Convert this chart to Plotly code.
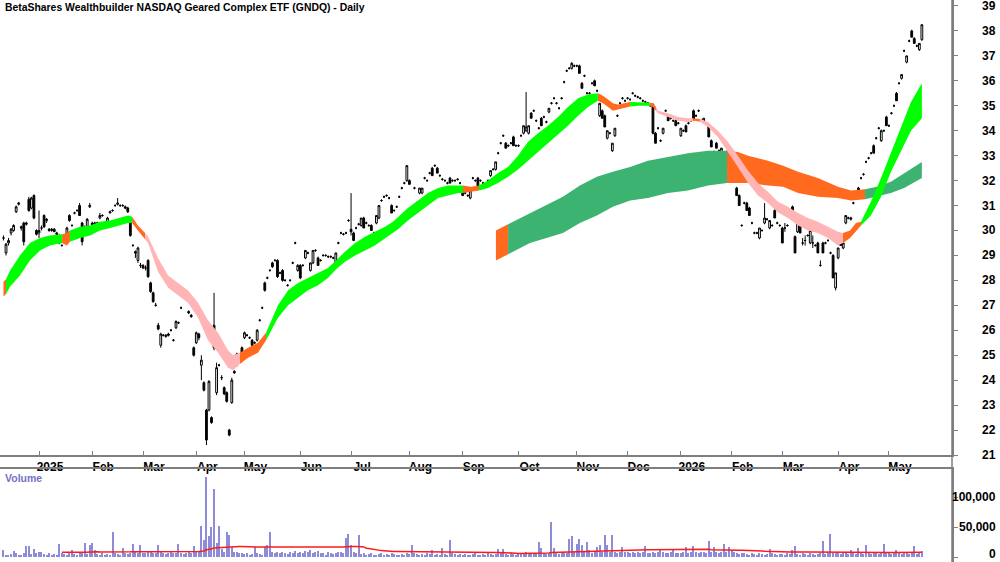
import numpy as np
import pandas as pd
import plotly.graph_objects as go

# ---------------- daily candles (open, high, low, close), one list per month ----------------
dec24 = [(29.7,29.8,29.6,29.7),(29.1,29.5,29.0,29.45),(29.5,29.7,29.4,29.6),(29.9,30.1,29.8,30.05),
         (30.0,30.25,29.95,30.2),(30.75,31.0,30.7,30.95),(31.05,31.15,31.0,31.1),(30.15,30.2,30.0,30.1),
         (30.3,30.35,29.4,29.55),(30.25,30.35,30.2,30.3),(31.25,31.35,30.75,30.8),(30.9,31.35,30.85,31.3),
         (31.4,31.45,30.45,30.5),(30.0,30.05,29.8,29.85)]
jan25 = [(29.9,30.8,29.7,30.0),(30.1,30.2,30.0,30.1),(30.6,30.65,30.1,30.15),(30.4,30.5,30.3,30.45),
         (30.05,30.1,29.95,30.0),(30.0,30.1,29.95,30.05),(30.05,30.1,29.95,29.95),(29.9,29.95,29.8,29.85),
         (29.8,29.85,29.45,29.5),(29.4,29.45,29.35,29.4),(29.55,29.6,29.5,29.55),(29.8,30.15,29.75,30.1),
         (30.6,30.65,30.35,30.4),(30.2,30.25,30.15,30.2),(30.7,30.75,30.65,30.7),(30.8,30.85,30.75,30.8),
         (31.0,31.1,30.6,30.6),(30.3,30.35,29.4,29.55),(30.1,30.2,30.0,30.1),(30.1,30.5,30.05,30.45),
         (30.95,31.1,30.9,31.0)]
feb25 = [(30.3,30.35,29.85,29.9),(30.25,30.35,30.2,30.3),(30.3,30.35,30.25,30.3),(30.5,30.7,30.45,30.6),
         (30.6,30.65,30.55,30.6),(30.2,30.35,30.1,30.3),(30.2,30.55,30.15,30.5),(30.7,30.8,30.7,30.75),
         (30.8,30.85,30.75,30.8),(31.0,31.05,30.95,31.0),(31.05,31.3,31.0,31.1),(31.0,31.05,30.95,31.0),
         (31.0,31.05,30.95,31.0),(30.95,31.0,30.85,30.9),(30.9,30.95,30.7,30.75),(30.5,30.55,29.75,29.8),
         (29.4,29.45,29.35,29.4),(29.15,29.2,28.9,29.1),(28.8,29.35,28.7,29.3),(28.6,28.7,28.5,28.6)]
mar25 = [(28.6,28.65,28.45,28.5),(28.5,28.6,28.4,28.5),(28.8,28.85,28.1,28.15),(27.9,27.95,27.5,27.55),
         (27.5,27.55,27.1,27.15),(27.0,27.1,26.95,27.0),(26.2,26.3,26.0,26.05),(25.4,25.9,25.3,25.85),
         (25.8,25.85,25.75,25.8),(25.75,25.85,25.7,25.8),(25.85,25.9,25.75,25.8),(26.0,26.05,25.95,26.0),
         (25.6,25.65,25.55,25.6),(26.1,26.4,26.05,26.35),(26.3,26.35,26.25,26.3),(26.9,26.95,26.85,26.9),
         (27.6,27.65,27.5,27.55),(27.4,27.45,27.2,27.3),(26.75,26.8,26.65,26.7),(26.6,26.65,26.5,26.55),
         (25.3,25.35,24.95,25.0)]
apr25 = [(25.5,25.95,25.45,25.9),(25.85,25.9,25.6,25.7),(24.6,25.0,24.0,24.8),(23.9,23.95,23.55,23.6),
         (22.8,22.85,21.4,21.6),(22.8,24.0,22.75,23.95),(22.5,22.55,22.25,22.3),(26.2,27.5,25.2,25.3),
         (23.5,24.7,23.4,24.5),(24.6,24.65,24.55,24.6),(24.1,24.2,24.0,24.1),(23.7,23.75,23.4,23.45),
         (23.5,23.55,23.1,23.15),(22.0,22.05,21.75,21.8),(23.1,24.1,23.05,24.0),(24.35,24.4,24.25,24.3),
         (24.6,25.1,24.55,25.05),(24.9,24.95,24.85,24.9),(25.3,25.35,24.9,24.95)]
may25 = [(25.7,25.95,25.65,25.9),(25.8,25.85,25.75,25.8),(25.7,25.75,25.65,25.7),(25.6,25.65,25.35,25.4),
         (25.5,25.55,25.45,25.5),(25.6,26.05,25.55,26.0),(26.4,26.45,26.35,26.4),(26.9,26.95,26.85,26.9),
         (27.9,27.95,27.55,27.6),(28.1,28.15,28.05,28.1),(28.4,28.45,28.35,28.4),(28.7,28.75,28.5,28.55),
         (28.8,28.85,28.75,28.8),(28.8,28.85,28.1,28.15),(28.3,28.35,28.25,28.3),(28.4,28.45,27.95,28.0),
         (28.0,28.05,27.95,28.0),(27.8,27.85,27.75,27.8),(28.0,28.05,27.95,28.0),(28.7,28.75,28.65,28.7),
         (29.5,29.55,29.45,29.5),(28.4,28.65,28.35,28.6)]
jun25 = [(28.6,28.65,28.05,28.1),(28.6,28.65,28.55,28.6),(28.9,29.2,28.85,29.2),(29.1,29.15,29.05,29.1),
         (28.4,28.7,28.35,28.7),(28.7,29.2,28.65,29.2),(29.2,29.25,29.15,29.2),(28.9,28.95,28.6,28.6),
         (28.8,28.85,28.75,28.8),(29.0,29.05,28.95,29.0),(29.0,29.05,28.95,29.0),(28.95,29.0,28.9,28.95),
         (28.95,29.0,28.9,28.95),(28.9,28.95,28.85,28.9),(28.6,29.1,28.55,29.1),(29.5,29.55,29.45,29.5),
         (29.9,29.95,29.85,29.9),(29.85,29.9,29.8,29.85),(29.9,29.95,29.85,29.9),(30.4,30.45,30.35,30.4)]
jul25 = [(30.05,31.5,29.8,29.95),(29.9,29.95,29.6,29.6),(30.1,30.15,30.05,30.1),(30.25,30.3,30.2,30.25),
         (30.2,30.5,30.15,30.5),(30.5,30.55,30.1,30.1),(30.3,30.35,30.25,30.3),(30.2,30.25,30.15,30.2),
         (30.2,30.25,30.0,30.0),(29.9,29.95,29.85,29.9),(30.3,30.6,30.25,30.6),(30.5,31.0,30.45,31.0),
         (31.2,31.25,31.15,31.2),(31.35,31.4,31.3,31.35),(31.4,31.45,31.35,31.4),(31.3,31.35,31.25,31.3),
         (31.0,31.05,30.7,30.7),(30.8,30.85,30.75,30.8),(30.95,31.0,30.9,30.95),(31.35,31.4,31.3,31.35),
         (31.7,31.75,31.65,31.7),(31.9,31.95,31.85,31.9),(32.0,32.6,31.95,32.6)]
aug25 = [(32.0,32.05,31.85,31.85),(30.8,30.85,30.75,30.8),(31.7,31.75,31.65,31.7),(31.1,31.15,31.05,31.1),
         (31.5,31.7,31.45,31.7),(31.5,31.7,31.45,31.7),(32.1,32.15,32.05,32.1),(32.0,32.05,31.95,32.0),
         (32.3,32.35,32.25,32.3),(32.5,32.55,32.2,32.2),(32.6,32.65,32.55,32.6),(32.5,32.55,32.3,32.3),
         (32.2,32.25,32.15,32.2),(32.05,32.1,32.0,32.05),(32.0,32.05,31.95,32.0),(31.9,31.95,31.85,31.9),
         (32.1,32.15,31.9,31.9),(32.0,32.05,31.95,32.0),(32.0,32.05,31.95,32.0),(32.05,32.1,32.0,32.05),
         (31.9,31.95,31.85,31.9)]
sep25 = [(31.7,31.75,31.4,31.4),(31.5,31.55,31.45,31.5),(31.4,31.45,31.35,31.4),(31.3,31.6,31.25,31.6),
         (32.1,32.15,32.05,32.1),(32.0,32.05,31.95,32.0),(32.1,32.15,31.7,31.7),(32.0,32.05,31.95,32.0),
         (31.9,31.95,31.85,31.9),(31.85,31.9,31.8,31.85),(32.0,32.05,31.95,32.0),(32.2,32.4,32.15,32.4),
         (32.45,32.5,32.4,32.45),(32.45,32.75,32.4,32.75),(33.1,33.15,33.05,33.1),(33.5,33.55,33.45,33.5),
         (33.8,33.85,33.75,33.8),(33.5,33.55,33.3,33.3),(33.4,33.45,33.35,33.4),(33.5,33.55,33.45,33.5),
         (33.75,33.8,33.4,33.4),(33.4,33.45,33.35,33.4)]
oct25 = [(33.4,33.45,33.35,33.4),(33.8,33.85,33.75,33.8),(33.9,34.2,33.85,34.2),(34.0,35.55,33.95,34.15),
         (33.9,34.2,33.85,34.2),(34.7,34.75,34.5,34.5),(34.8,34.85,34.75,34.8),(34.4,34.45,34.35,34.4),
         (34.1,34.15,34.05,34.1),(34.5,34.55,34.2,34.2),(34.55,34.6,34.5,34.55),(34.35,34.4,34.3,34.35),
         (34.75,34.9,34.7,34.9),(35.1,35.15,35.05,35.1),(35.3,35.35,35.25,35.3),(35.1,35.15,35.05,35.1),
         (34.9,34.95,34.85,34.9),(35.3,35.35,35.25,35.3),(35.95,36.0,35.9,35.95),(36.4,36.45,36.35,36.4),
         (36.5,36.55,36.45,36.5),(36.5,36.75,36.45,36.7),(36.6,36.65,36.55,36.6)]
nov25 = [(36.6,36.65,36.55,36.6),(36.6,36.65,36.3,36.3),(35.9,35.95,35.7,35.7),(36.2,36.25,36.15,36.2),
         (35.5,35.55,35.45,35.5),(35.5,35.55,35.45,35.5),(35.9,35.95,35.85,35.9),(36.0,36.05,35.8,35.8),
         (35.6,35.65,35.55,35.6),(34.6,35.1,34.55,35.1),(34.8,34.85,34.5,34.5),(34.6,34.65,34.15,34.15),
         (33.7,34.0,33.65,34.0),(33.9,33.95,33.85,33.9),(33.2,33.5,33.15,33.5),(33.8,34.1,33.75,34.1),
         (34.6,34.65,34.55,34.6),(35.1,35.15,35.05,35.1),(35.3,35.35,35.25,35.3),(35.2,35.25,35.15,35.2)]
dec25 = [(35.3,35.35,35.25,35.3),(35.25,35.3,35.2,35.25),(35.5,35.55,35.45,35.5),(35.4,35.45,35.35,35.4),
         (35.35,35.4,35.3,35.35),(35.3,35.35,35.25,35.3),(35.2,35.25,35.15,35.2),(35.15,35.2,35.1,35.15),
         (35.1,35.15,35.05,35.1),(35.0,35.05,34.95,35.0),(35.05,35.1,33.85,33.9),(33.9,33.95,33.5,33.5),
         (34.1,34.15,34.05,34.1),(33.6,33.65,33.55,33.6),(33.9,34.1,33.85,34.1),(34.8,34.85,34.75,34.8),
         (34.6,34.65,34.4,34.4),(34.5,34.55,34.45,34.5),(34.4,34.45,34.35,34.4),(34.4,34.45,34.2,34.2),
         (34.3,34.35,34.25,34.3)]
jan26 = [(33.8,34.1,33.75,34.1),(34.0,34.05,33.95,34.0),(34.2,34.25,33.95,33.95),(34.3,34.35,34.25,34.3),
         (34.4,34.45,34.35,34.4),(34.8,34.85,34.45,34.45),(34.6,34.65,34.55,34.6),(34.8,34.85,34.75,34.8),
         (34.4,34.45,34.35,34.4),(34.35,34.5,34.3,34.5),(34.3,34.35,34.25,34.3),(34.2,34.25,33.75,33.75),
         (33.6,33.65,33.35,33.35),(33.15,33.2,33.1,33.15),(33.5,33.55,33.3,33.3),(33.2,33.25,33.15,33.2),
         (33.0,33.3,32.95,33.3),(33.1,33.15,33.05,33.1),(33.15,33.2,32.5,32.5),(32.4,32.45,32.35,32.4)]
feb26 = [(32.0,32.05,31.95,32.0),(32.9,32.95,32.6,32.6),(31.7,31.75,31.4,31.4),(31.4,31.45,31.0,31.0),
         (30.2,30.25,30.15,30.2),(31.1,31.15,31.05,31.1),(31.1,31.15,30.8,30.8),(30.9,30.95,30.6,30.6),
         (30.3,30.35,30.25,30.3),(29.9,29.95,29.85,29.9),(29.9,29.95,29.85,29.9),(29.7,30.1,29.65,30.1),
         (30.0,30.05,29.95,30.0),(30.3,31.1,30.25,30.5),(30.45,30.5,30.4,30.45),(30.1,30.4,30.05,30.4),
         (30.2,30.25,30.15,30.2),(30.8,30.85,30.5,30.5),(30.3,30.35,30.25,30.3),(30.2,30.25,30.15,30.2)]
mar26 = [(30.1,30.15,29.5,29.5),(30.1,30.3,29.95,30.1),(30.2,30.25,30.15,30.2),(30.7,30.75,30.65,30.7),
         (30.95,31.0,30.7,30.7),(29.75,29.8,29.1,29.1),(29.95,30.3,29.9,30.3),(30.2,30.25,29.9,29.9),
         (29.5,29.7,29.4,29.5),(29.6,29.8,29.4,29.6),(29.8,29.85,29.75,29.8),(29.5,30.0,29.45,30.0),
         (29.5,29.8,29.3,29.5),(29.4,29.45,29.35,29.4),(29.5,29.55,29.1,29.1),(28.6,28.8,28.55,28.6),
         (29.5,29.55,29.1,29.1),(29.5,29.55,29.45,29.5),(29.6,29.65,29.55,29.6),(29.1,29.15,29.05,29.1),
         (29.0,29.05,28.1,28.1),(27.7,28.3,27.6,28.3)]
apr26 = [(28.9,29.3,28.85,29.3),(29.65,29.7,29.4,29.4),(29.3,29.5,29.25,29.5),(30.3,30.6,30.25,30.6),
         (30.5,30.55,30.45,30.5),(30.45,30.55,30.4,30.5),(31.1,31.15,31.05,31.1),(31.3,31.35,31.25,31.3),
         (31.7,31.75,31.4,31.4),(32.1,32.15,32.05,32.1),(32.25,32.3,32.2,32.25),(32.75,32.8,32.7,32.75),
         (32.9,32.95,32.85,32.9),(33.1,33.15,33.05,33.1),(33.4,33.45,33.1,33.1),(33.7,33.75,33.65,33.7),
         (34.1,34.15,34.05,34.1),(33.6,34.05,33.55,34.0),(34.0,34.05,33.95,34.0),(34.55,34.6,34.2,34.2)]
may26 = [(34.2,34.25,34.15,34.2),(34.7,34.75,34.65,34.7),(35.0,35.05,34.95,35.0),(35.5,35.55,35.2,35.2),
         (35.9,35.95,35.85,35.9),(36.1,36.25,36.05,36.25),(37.2,37.25,37.15,37.2),(36.75,37.0,36.7,37.0),
         (37.6,37.65,37.55,37.6),(38.0,38.05,37.75,37.75),(37.7,37.75,37.5,37.5),(37.4,37.45,37.35,37.4),
         (37.25,37.5,37.2,37.5),(37.65,38.25,37.6,38.25)]

# ---------------- daily volume, one list per month ----------------
vol_dec24 = [12000,4000,3000,5000,10000,6000,3000,4000,7000,19000,19000,5000,14000,6000]
vol_jan25 = [8000,9000,5000,4000,6000,3000,5000,4000,21000,7000,5000,4000,6000,12000,5000,3000,6000,9000,24000,5000,20000]
vol_feb25 = [24000,11000,5000,4000,6000,3000,5000,4000,42000,6000,5000,4000,15000,7000,5000,6000,22000,8000,6000,20000]
vol_mar25 = [7000,6000,9000,8000,7000,6000,20000,8000,7000,5000,6000,8000,7000,6000,22000,6000,5000,7000,8000,6000,18000]
vol_apr25 = [8000,10000,52000,29000,133000,35000,50000,114000,23000,51000,13000,9000,42000,37000,17000,9000,8000,7000,6000]
vol_may25 = [5000,6000,4000,5000,17000,6000,5000,4000,16000,20000,42000,8000,7000,9000,6000,8000,7000,5000,9000,6000,10000,7000]
vol_jun25 = [9000,7000,10000,8000,11000,6000,9000,10000,7000,6000,4000,8000,7000,5000,6000,8000,9000,7000,31000,38000]
vol_jul25 = [20000,9000,7000,37000,5000,6000,4000,5000,6000,4000,3000,5000,6000,4000,5000,4000,6000,5000,4000,3000,5000,4000,6000]
vol_aug25 = [5000,20000,6000,5000,4000,5000,4000,6000,5000,12000,4000,5000,4000,15000,5000,4000,28000,6000,5000,4000,5000]
vol_sep25 = [4000,5000,3000,4000,5000,6000,4000,3000,5000,4000,6000,5000,4000,5000,13000,6000,13000,5000,4000,6000,5000,4000]
vol_oct25 = [6000,5000,7000,9000,6000,5000,7000,6000,25000,15000,6000,5000,7000,58000,15000,6000,5000,7000,8000,6000,30000,35000,8000]
vol_nov25 = [22000,30000,20000,8000,25000,12000,7000,9000,17000,20000,8000,37000,20000,9000,37000,8000,7000,9000,17000,8000]
vol_dec25 = [8000,7000,9000,6000,8000,7000,9000,18000,7000,6000,8000,7000,9000,12000,8000,7000,6000,8000,14000,7000,6000]
vol_jan26 = [7000,8000,16000,7000,9000,18000,8000,7000,9000,8000,7000,26000,9000,16000,8000,7000,9000,21000,8000,17000]
vol_feb26 = [12000,8000,6000,5000,7000,6000,5000,4000,6000,5000,4000,6000,5000,4000,5000,14000,6000,5000,4000,5000]
vol_mar26 = [5000,4000,6000,5000,12000,19000,5000,4000,6000,5000,4000,6000,5000,4000,5000,6000,27000,5000,6000,39000,7000,6000]
vol_apr26 = [6000,5000,7000,6000,5000,12000,6000,5000,15000,6000,5000,20000,6000,5000,7000,6000,5000,6000,21000,6000]
vol_may26 = [6000,5000,7000,11000,6000,5000,7000,6000,5000,6000,19000,5000,6000,10000]

# ---------------- trend ribbons (trading-day index, upper, lower, state) ----------------
short_day = [0.0,1.0,2.6,6.5,10.4,14.4,18.3,23.1,25.0,26.2,30.2,34.1,38.0,42.0,45.9,49.1,50.7,53.0,55.8,57.0,
             60.9,64.9,68.8,72.7,76.7,80.6,84.6,88.5,90.5,93.2,96.4,100.3,103.5,108.2,112.2,116.1,120.0,124.0,
             127.9,131.1,134.6,138.6,142.5,146.4,150.4,153.5,155.5,159.4,163.4,167.3,171.3,175.2,179.2,181.1,
             184.3,187.4,191.0,194.9,198.9,202.8,206.7,210.7,214.6,218.6,222.5,226.5,230.4,234.3,236.3,238.3,
             240.2,242.2,246.2,247.0,250.1,254.1,254.8,256.0,257.2,258.0,261.9,265.9,269.8,271.8,272.6,274.5,
             277.7,281.6,285.6,289.5,293.5,297.4,301.3,305.3,309.2,313.2,317.1,321.0,325.0,328.9,330.9,333.7,
             336.0,338.0,341.9,345.9,349.8,353.8,357.7,362.0]
short_top = [27.95,28.05,28.4,29.0,29.5,29.7,29.8,29.85,29.9,30.0,30.15,30.2,30.35,30.4,30.5,30.6,30.55,30.2,29.9,29.75,
             28.9,28.2,27.9,27.6,27.1,26.4,25.9,25.2,25.0,25.1,25.3,25.5,25.9,27.0,27.6,27.9,28.1,28.3,
             28.5,28.8,29.15,29.5,29.75,29.95,30.15,30.35,30.55,30.9,31.2,31.5,31.7,31.8,31.8,31.8,
             31.75,31.8,32.0,32.3,32.55,33.0,33.55,33.9,34.2,34.55,34.95,35.3,35.45,35.5,35.4,35.25,
             35.1,35.05,35.15,35.15,35.15,35.12,35.12,35.1,34.95,34.8,34.7,34.55,34.5,34.5,34.5,34.47,
             34.35,34.0,33.55,33.0,32.4,31.9,31.55,31.15,30.95,30.7,30.5,30.35,30.15,29.95,29.9,30.0,
             30.3,30.35,31.15,32.1,33.1,34.15,35.15,35.9]
short_bot = [27.35,27.45,27.75,28.2,28.8,29.2,29.4,29.5,29.4,29.55,29.7,29.8,30.0,30.1,30.2,30.3,30.3,30.0,29.65,29.5,
             28.35,27.7,27.4,27.1,26.5,25.6,25.1,24.5,24.4,24.65,24.9,25.1,25.6,26.5,27.0,27.3,27.6,27.8,
             28.1,28.45,28.75,29.0,29.2,29.4,29.7,29.9,30.05,30.4,30.7,31.0,31.3,31.4,31.5,31.5,
             31.55,31.6,31.7,31.9,32.15,32.45,32.8,33.15,33.5,33.85,34.2,34.6,34.95,35.2,35.1,34.95,
             34.8,34.85,34.95,34.97,35.0,35.0,34.98,34.95,34.8,34.7,34.55,34.4,34.35,34.38,34.4,34.36,
             34.15,33.75,33.15,32.55,31.9,31.4,31.1,30.72,30.5,30.2,30.0,29.9,29.7,29.4,29.5,29.7,
             29.95,30.2,30.6,31.35,32.35,33.2,34.0,34.5]
short_state = ["mixed","up","up","up","up","up","up","mixed","mixed","up","up","up","up","up","up","up","mixed","mixed","down","down",
               "down","down","down","down","down","down","down","down","down","mixed","mixed","mixed","up","up","up","up","up","up",
               "up","up","up","up","up","up","up","up","up","up","up","up","up","up","up","mixed",
               "mixed","up","up","up","up","up","up","up","up","up","up","up","up","mixed","mixed","mixed",
               "mixed","mixed","mixed","up","up","up","mixed","mixed","down","down","down","down","down","mixed","mixed","down",
               "down","down","down","down","down","down","down","down","down","down","down","down","down","down","mixed","mixed",
               "mixed","up","up","up","up","up","up","up"]

long_day = [194.1,198.9,207.5,220.5,227.2,233.9,240.2,247.0,254.0,261.9,269.8,277.7,285.2,289.5,293.5,297.4,
            301.3,307.3,313.2,321.0,328.9,334.1,339.6,344.3,349.8,355.0,362.0]
long_top = [30.0,30.25,30.7,31.35,31.8,32.15,32.35,32.55,32.8,32.95,33.1,33.2,33.2,33.15,33.0,32.9,
            32.8,32.6,32.35,32.1,31.75,31.6,31.65,31.75,31.95,32.3,32.75]
long_bot = [28.8,29.05,29.5,29.9,30.3,30.6,30.95,31.2,31.3,31.5,31.6,31.8,31.9,31.9,31.9,31.85,
            31.8,31.75,31.5,31.35,31.3,31.2,31.25,31.35,31.5,31.7,32.1]
long_state = ["down","up","up","up","up","up","up","up","up","up","up","up","down","down","down","down",
              "down","down","down","down","down","down","up","up","up","up","up"]

price_ticks = list(range(21, 40))
volume_ticks = [0, 50000, 100000]
holidays = ["2024-12-25","2024-12-26","2025-01-01","2025-01-27","2025-04-18","2025-04-21","2025-04-25",
            "2025-06-09","2025-12-25","2025-12-26","2026-01-01","2026-01-26","2026-04-03","2026-04-06"]

# ---------------- assemble ----------------
months = [dec24, jan25, feb25, mar25, apr25, may25, jun25, jul25, aug25, sep25, oct25, nov25,
          dec25, jan26, feb26, mar26, apr26, may26]
rows = [r for m in months for r in m]
open_ = [r[0] for r in rows]
high = [r[1] for r in rows]
low = [r[2] for r in rows]
close = [r[3] for r in rows]
vol_months = [vol_dec24, vol_jan25, vol_feb25, vol_mar25, vol_apr25, vol_may25, vol_jun25, vol_jul25, vol_aug25,
              vol_sep25, vol_oct25, vol_nov25, vol_dec25, vol_jan26, vol_feb26, vol_mar26, vol_apr26, vol_may26]
volume = [v for m in vol_months for v in m]
n = len(rows)
x = np.arange(n)
dates = pd.bdate_range("2024-12-10", periods=n, freq="C", holidays=holidays)

vol_ma = pd.Series(volume[:n], dtype=float).rolling(63, min_periods=24).mean()

# month ticks
tickvals, ticktext = [], []
prev = None
for i, d in enumerate(dates):
    key = (d.year, d.month)
    if key != prev and i > 0:
        tickvals.append(i)
        ticktext.append(str(d.year) if d.month == 1 else d.strftime("%b"))
    prev = key

COLORS = {"up": "#00ff00", "down": "#ffb5b5", "mixed": "#ff6a1f"}
LCOLORS = {"up": "#3cb371", "down": "#ff6a1f"}


def band_polys(days, top, bot, state, cmap):
    segs = []
    a = 0
    for k in range(1, len(days)):
        if k == len(days) - 1 or state[k] != state[a]:
            segs.append((a, k, state[a]))
            a = k
    out = {}
    for a, b, s in segs:
        xs = list(days[a:b + 1]) + list(days[a:b + 1])[::-1]
        ys = list(top[a:b + 1]) + list(bot[a:b + 1])[::-1]
        px, py = out.setdefault(s, ([], []))
        px.extend(xs + [xs[0], None])
        py.extend(ys + [ys[0], None])
    traces = []
    for s, (px, py) in out.items():
        traces.append(go.Scatter(x=px, y=py, fill="toself", fillcolor=cmap[s], mode="lines",
                                 line=dict(width=0, color=cmap[s]), hoverinfo="skip",
                                 showlegend=False, xaxis="x", yaxis="y"))
    return traces


fig = go.Figure()
for t in band_polys(long_day, long_top, long_bot, long_state, LCOLORS):
    fig.add_trace(t)
for t in band_polys(short_day, short_top, short_bot, short_state, COLORS):
    fig.add_trace(t)

fig.add_trace(go.Candlestick(
    x=x, open=open_, high=high, low=low, close=close,
    increasing=dict(line=dict(color="black", width=1), fillcolor="white"),
    decreasing=dict(line=dict(color="black", width=1), fillcolor="black"),
    whiskerwidth=0, showlegend=False, xaxis="x", yaxis="y"))

fig.add_trace(go.Bar(x=x, y=volume[:n], marker=dict(color="#8c8cd8", line=dict(width=0)),
                     width=0.45, showlegend=False, xaxis="x2", yaxis="y2"))
fig.add_trace(go.Scatter(x=x, y=vol_ma, mode="lines", line=dict(color="#ff1a1a", width=1.5),
                         showlegend=False, xaxis="x2", yaxis="y2"))

W, H = 1000, 562
px_per_day = 2.537
x_left = -39 / px_per_day + 14
x_right = (952 - 39) / px_per_day + 14
price_bottom = 1 - 455 / H
vol_top = 1 - 469 / H
axis_gray = "#7f7f7f"
FONT = "Liberation Sans, Arial, sans-serif"
bold = dict(family=FONT, size=12, color="black", weight="bold")

fig.update_layout(
    width=W, height=H, margin=dict(l=0, r=0, t=0, b=0),
    paper_bgcolor="white", plot_bgcolor="white", showlegend=False, bargap=0, boxgap=0.0,
    xaxis=dict(domain=[0, 0.952], range=[x_left, x_right], anchor="y", showgrid=False, zeroline=False,
               showline=True, linecolor=axis_gray, linewidth=1.5, ticks="inside", ticklen=4,
               tickcolor=axis_gray, tickvals=tickvals, ticktext=ticktext, tickfont=bold,
               ticklabelshift=11, ticklabelstandoff=0, rangeslider=dict(visible=False)),
    yaxis=dict(domain=[price_bottom, 1], range=[21.0, 39.24], side="right", anchor="x", showgrid=False,
               zeroline=False, showline=True, linecolor=axis_gray, linewidth=1.5, ticks="outside",
               ticklen=4, tickcolor=axis_gray, tickvals=price_ticks, showticklabels=False),
    xaxis2=dict(domain=[0, 0.952], range=[x_left, x_right], anchor="y2", matches="x", side="top",
                showgrid=False, zeroline=False, showline=True, linecolor=axis_gray, linewidth=1.5,
                showticklabels=False, ticks=""),
    yaxis2=dict(domain=[0, vol_top], range=[-8333, 146667], side="right", anchor="x2", showgrid=False,
                zeroline=False, showline=True, linecolor=axis_gray, linewidth=1.5, ticks="outside",
                ticklen=4, tickcolor=axis_gray, tickvals=volume_ticks, showticklabels=False),
)

ann = []
for v in price_ticks:
    ann.append(dict(x=0.998, xref="paper", xanchor="right", y=v, yref="y", yanchor="middle",
                    text=str(v), showarrow=False, font=bold))
for v in volume_ticks:
    ann.append(dict(x=0.998, xref="paper", xanchor="right", y=v, yref="y2", yanchor="middle",
                    yshift=(3 if v == 0 else 0), text=f"{v:,}", showarrow=False, font=bold))
ann.append(dict(x=3 / W, xref="paper", xanchor="left", y=1 - 8 / H, yref="paper", yanchor="middle",
                text="BetaShares Wealthbuilder NASDAQ Geared Complex ETF (GNDQ) - Daily", showarrow=False,
                font=dict(family=FONT, size=10.4, color="black", weight="bold")))
ann.append(dict(x=3 / W, xref="paper", xanchor="left", y=1 - 478 / H, yref="paper", yanchor="middle",
                text="Volume", showarrow=False,
                font=dict(family=FONT, size=10.5, color="#7373bf", weight="bold")))
fig.update_layout(annotations=ann)

fig.add_shape(type="line", xref="paper", yref="paper", x0=0.952, x1=0.952, y0=0, y1=1,
              line=dict(color=axis_gray, width=1.5))

fig.write_html("out.html", config={"displayModeBar": False})
